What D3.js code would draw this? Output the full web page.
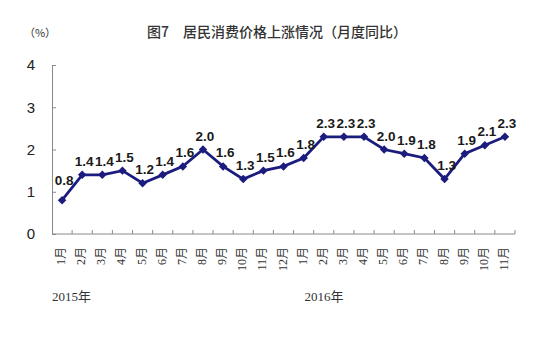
<!DOCTYPE html>
<html>
<head>
<meta charset="utf-8">
<script src="https://cdn.jsdelivr.net/npm/d3@7"></script>
<style>
  html, body { margin: 0; padding: 0; background: #fff; }
  svg { display: block; }
</style>
</head>
<body>
<svg id="chart" width="554" height="337"></svg>
<script>
// Monthly year-on-year CPI change, Jan 2015 – Nov 2016
const months = ["1月","2月","3月","4月","5月","6月","7月","8月","9月","10月","11月","12月",
                "1月","2月","3月","4月","5月","6月","7月","8月","9月","10月","11月"];
const cpi = [0.8, 1.4, 1.4, 1.5, 1.2, 1.4, 1.6, 2.0, 1.6, 1.3, 1.5, 1.6,
             1.8, 2.3, 2.3, 2.3, 2.0, 1.9, 1.8, 1.3, 1.9, 2.1, 2.3];
const yTicks = [0, 1, 2, 3, 4];
const years = [{ label: "2015年", start: 0 }, { label: "2016年", start: 12 }];
const title = "图7　居民消费价格上涨情况（月度同比）";
const unit = "（%）";

const svg = d3.select("#chart");
const plotLeft = 52, plotRight = 515, plotTop = 65, plotBottom = 234;
const keys = d3.range(cpi.length);

const x = d3.scaleBand().domain(keys).range([plotLeft, plotRight]);
const y = d3.scaleLinear().domain([0, 4]).range([plotBottom, plotTop]);

const axisColor = "#8a8a8a";
const lineColor = "#1c1c7e";
const sans = "'Liberation Sans', Arial, 'Noto Sans CJK SC', sans-serif";
const serif = "'Liberation Serif', 'DejaVu Serif', 'Noto Sans CJK SC', serif";

// title and unit
svg.append("text")
  .attr("x", 277).attr("y", 37)
  .attr("text-anchor", "middle")
  .attr("font-family", "'Noto Sans CJK SC', sans-serif")
  .attr("font-size", 14).attr("font-weight", 500)
  .attr("fill", "#333")
  .text(title);
svg.append("text")
  .attr("x", 40).attr("y", 37)
  .attr("text-anchor", "middle")
  .attr("font-family", "'Noto Sans CJK SC', sans-serif")
  .attr("font-size", 11)
  .attr("fill", "#333")
  .text(unit);

// y axis
const yAxis = svg.append("g")
  .attr("transform", `translate(${plotLeft},0)`)
  .call(d3.axisLeft(y).tickValues(yTicks).tickSize(-4).tickPadding(17).tickFormat(d3.format("d")));
yAxis.select(".domain").attr("stroke", axisColor);
yAxis.selectAll(".tick line").attr("stroke", axisColor);
yAxis.selectAll(".tick text")
  .attr("font-family", sans).attr("font-size", 15).attr("fill", "#222");

// x axis: ticks between months, pointing up
const boundaries = d3.range(cpi.length + 1).map(i => plotLeft + i * x.step());
svg.append("line")
  .attr("x1", plotLeft).attr("x2", plotRight).attr("y1", plotBottom).attr("y2", plotBottom)
  .attr("stroke", axisColor);
svg.append("g").selectAll("line").data(boundaries.slice(1)).join("line")
  .attr("x1", d => d).attr("x2", d => d)
  .attr("y1", plotBottom).attr("y2", plotBottom - 4)
  .attr("stroke", axisColor);

// month labels, rotated
svg.append("g").selectAll("text").data(keys).join("text")
  .attr("transform", i => `translate(${x(i) + x.bandwidth() / 2 + 3},247) rotate(-90)`)
  .attr("text-anchor", "end")
  .attr("font-family", serif).attr("font-size", 12)
  .attr("fill", "#333")
  .text(i => months[i]);

// year labels
svg.append("g").selectAll("text").data(years).join("text")
  .attr("x", d => d.start === 0 ? plotLeft : x(d.start) + 11)
  .attr("y", 301)
  .attr("font-family", serif).attr("font-size", 13)
  .attr("fill", "#333")
  .text(d => d.label);

// line
const cx = i => x(i) + x.bandwidth() / 2;
svg.append("path")
  .datum(keys)
  .attr("d", d3.line().x(cx).y(i => y(cpi[i])))
  .attr("fill", "none")
  .attr("stroke", lineColor)
  .attr("stroke-width", 2.8);

// diamond markers
svg.append("g").selectAll("path").data(keys).join("path")
  .attr("transform", i => `translate(${cx(i)},${y(cpi[i])})`)
  .attr("d", d3.symbol(d3.symbolDiamond2, 46))
  .attr("fill", lineColor);

// value labels
svg.append("g").selectAll("text").data(keys).join("text")
  .attr("x", i => cx(i) + 2)
  .attr("y", i => y(cpi[i]) - (i === 0 ? 15 : 9))
  .attr("text-anchor", "middle")
  .attr("font-family", sans).attr("font-size", 13.5).attr("font-weight", 600)
  .attr("fill", "#1a1a1a")
  .text(i => cpi[i].toFixed(1));
</script>
</body>
</html>
